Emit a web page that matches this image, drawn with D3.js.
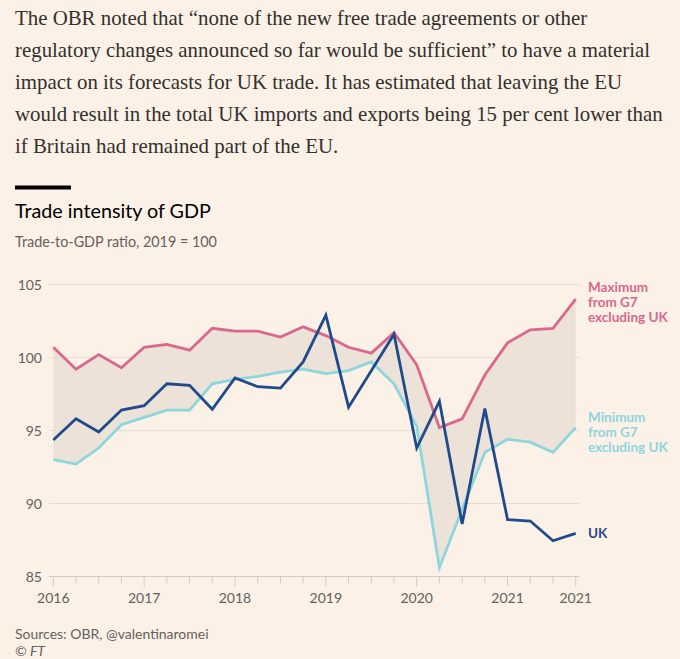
<!DOCTYPE html>
<html>
<head>
<meta charset="utf-8">
<script src="https://cdn.jsdelivr.net/npm/d3@7"></script>
<style>
  html, body { margin: 0; padding: 0; background: #fcf1e7; }
  svg { display: block; }
</style>
</head>
<body>
<svg id="chart" width="680" height="659"></svg>
<script>
// ---------- DATA ----------
const quarters = [
  "2016 Q1","2016 Q2","2016 Q3","2016 Q4",
  "2017 Q1","2017 Q2","2017 Q3","2017 Q4",
  "2018 Q1","2018 Q2","2018 Q3","2018 Q4",
  "2019 Q1","2019 Q2","2019 Q3","2019 Q4",
  "2020 Q1","2020 Q2","2020 Q3","2020 Q4",
  "2021 Q1","2021 Q2","2021 Q3","2021 Q4"
];
const maxG7 = [100.7, 99.2, 100.2, 99.3, 100.7, 100.9, 100.5, 102.0, 101.8, 101.8, 101.4, 102.1,
               101.5, 100.7, 100.3, 101.7, 99.5, 95.2, 95.8, 98.8, 101.0, 101.9, 102.0, 104.0];
const minG7 = [93.0, 92.7, 93.8, 95.4, 95.9, 96.4, 96.4, 98.2, 98.5, 98.7, 99.0, 99.2,
               98.9, 99.1, 99.7, 98.2, 95.3, 85.6, 89.6, 93.5, 94.4, 94.2, 93.5, 95.2];
const uk    = [94.35, 95.8, 94.9, 96.4, 96.7, 98.2, 98.1, 96.45, 98.6, 98.0, 97.9, 99.7,
               102.9, 96.6, 99.1, 101.6, 93.8, 97.0, 88.6, 96.5, 88.9, 88.8, 87.45, 87.95];
const yTicks = [85, 90, 95, 100, 105];
const xTickQuarters = ["2016 Q1","2017 Q1","2018 Q1","2019 Q1","2020 Q1","2021 Q1","2021 Q4"];
const xTickLabels   = ["2016","2017","2018","2019","2020","2021","2021"];

const paragraph = [
  "The OBR noted that \u201Cnone of the new free trade agreements or other",
  "regulatory changes announced so far would be sufficient\u201D to have a material",
  "impact on its forecasts for UK trade. It has estimated that leaving the EU",
  "would result in the total UK imports and exports being 15 per cent lower than",
  "if Britain had remained part of the EU."
];
const title = "Trade intensity of GDP";
const subtitle = "Trade-to-GDP ratio, 2019 = 100";
const seriesLabels = {
  max: ["Maximum", "from G7", "excluding UK"],
  min: ["Minimum", "from G7", "excluding UK"],
  uk:  ["UK"]
};
const sourceText = "Sources: OBR, @valentinaromei";
const copyright = "\u00A9 FT";

// ---------- STYLE ----------
const colors = {
  bg: "#fcf1e7", text: "#33302e", muted: "#66605c",
  grid: "#e8dcd1", axis: "#d6cabf", band: "#ede2d8",
  max: "#d9688c", min: "#8dd6dc", uk: "#1f4b8c"
};
const sans = "Lato, 'Open Sans', sans-serif";
const serif = "'Liberation Serif', 'DejaVu Serif', serif";

const svg = d3.select("#chart");
svg.append("rect").attr("width", 680).attr("height", 659).attr("fill", colors.bg);

// ---------- PARAGRAPH ----------
const para = svg.append("g");
const pLines = para.selectAll("text").data(paragraph).join("text")
  .attr("x", 15).attr("y", (d, i) => 25 + i * 32)
  .attr("fill", colors.text)
  .style("font-family", serif).style("font-size", "18px")
  .text(d => d);
// fit the longest line to the reference width
let maxW = 0;
pLines.each(function() { maxW = Math.max(maxW, this.getComputedTextLength()); });
const pSize = 18 * 648 / maxW;
pLines.style("font-size", pSize + "px");

// ---------- TITLE ----------
svg.append("rect").attr("x", 15).attr("y", 185.5).attr("width", 56).attr("height", 4).attr("fill", "#000");
const tEl = svg.append("text").attr("x", 15).attr("y", 218)
  .attr("fill", "#000").style("font-family", sans).style("font-size", "20px").text(title);
tEl.style("font-size", (20 * 196 / tEl.node().getComputedTextLength()) + "px");
const sEl = svg.append("text").attr("x", 15).attr("y", 246.5)
  .attr("fill", colors.muted).style("font-family", sans).style("font-size", "15px").text(subtitle);
sEl.style("font-size", (15 * 202 / sEl.node().getComputedTextLength()) + "px");

// ---------- SCALES ----------
const x = d3.scalePoint().domain(quarters).range([53.3, 575.7]);
const y = d3.scaleLinear().domain([85, 105]).range([576.5, 284.5]);

// gridlines
const gridG = svg.append("g");
gridG.selectAll("line").data(yTicks.filter(v => v !== 85)).join("line")
  .attr("x1", x.range()[0] - 4).attr("x2", x.range()[1] + 4)
  .attr("y1", d => y(d)).attr("y2", d => y(d))
  .attr("stroke", colors.grid).attr("stroke-width", 1);

// y labels
svg.append("g").selectAll("text").data(yTicks).join("text")
  .attr("x", 42).attr("y", d => y(d) + 5)
  .attr("text-anchor", "end").attr("fill", colors.muted)
  .style("font-family", sans).style("font-size", "14px")
  .text(d => d);

// x axis
const xAxisG = svg.append("g").attr("transform", `translate(0,${y(85)})`);
xAxisG.append("line")
  .attr("x1", x.range()[0] - 4).attr("x2", x.range()[1] + 4)
  .attr("stroke", colors.axis).attr("stroke-width", 1);
xAxisG.selectAll("line.tick").data(quarters).join("line").attr("class", "tick")
  .attr("x1", d => x(d)).attr("x2", d => x(d))
  .attr("y1", 0).attr("y2", d => xTickQuarters.includes(d) ? 10 : 7)
  .attr("stroke", colors.axis).attr("stroke-width", 1);
xAxisG.selectAll("text").data(xTickQuarters).join("text")
  .attr("x", d => x(d)).attr("y", 26.5)
  .attr("text-anchor", "middle").attr("fill", colors.muted)
  .style("font-family", sans).style("font-size", "14px")
  .text((d, i) => xTickLabels[i]);

// ---------- BAND ----------
const area = d3.area()
  .x((d, i) => x(quarters[i]))
  .y0((d, i) => y(minG7[i]))
  .y1((d, i) => y(maxG7[i]));
svg.append("path").datum(quarters).attr("d", area).attr("fill", colors.band);

// ---------- LINES ----------
const line = d3.line().x((d, i) => x(quarters[i])).y(d => y(d));
[[minG7, colors.min], [maxG7, colors.max], [uk, colors.uk]].forEach(([vals, c]) => {
  svg.append("path").datum(vals).attr("d", line)
    .attr("fill", "none").attr("stroke", c).attr("stroke-width", 2.8)
    .attr("stroke-linejoin", "miter").attr("stroke-miterlimit", 4);
});

// ---------- SERIES LABELS ----------
function addLabel(lines, color, firstBaseline) {
  svg.append("g").selectAll("text").data(lines).join("text")
    .attr("x", 588).attr("y", (d, i) => firstBaseline + i * 15)
    .attr("fill", color).style("font-family", sans)
    .style("font-size", "13.5px").style("font-weight", "bold")
    .text(d => d);
}
addLabel(seriesLabels.max, colors.max, 292);
addLabel(seriesLabels.min, colors.min, 422);
addLabel(seriesLabels.uk, colors.uk, 538);

// ---------- SOURCE ----------
svg.append("text").attr("x", 15).attr("y", 639).attr("fill", colors.muted)
  .style("font-family", sans).style("font-size", "14px").text(sourceText);
svg.append("text").attr("x", 15).attr("y", 656).attr("fill", colors.muted)
  .style("font-family", sans).style("font-size", "14px").style("font-style", "italic").text(copyright);
</script>
</body>
</html>
